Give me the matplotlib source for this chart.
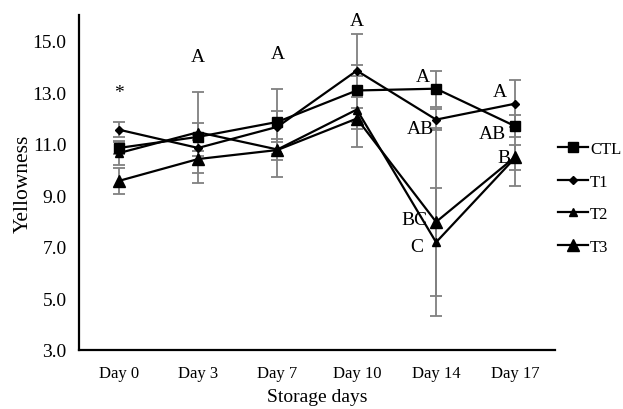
import numpy as np
import matplotlib
matplotlib.use('Agg')
import matplotlib.pyplot as plt

plt.rcParams['font.family'] = ['Liberation Serif', 'DejaVu Serif']

days = ['Day 0', 'Day 3', 'Day 7', 'Day 10', 'Day 14', 'Day 17']

ctl = [10.84, 11.27, 11.85, 13.07, 13.14, 11.68]
t1 = [11.55, 10.84, 11.66, 13.84, 11.94, 12.56]
t2 = [10.64, 11.45, 10.78, 12.33, 7.18, 10.47]
t3 = [9.56, 10.41, 10.76, 11.98, 7.97, 10.50]

ctl_err = [0.22, 0.55, 1.26, 2.19, 0.70, 0.42]
t1_err = [0.30, 0.30, 0.60, 0.20, 0.42, 0.90]
t2_err = [0.47, 1.58, 0.40, 0.50, 2.10, 0.50]
t3_err = [0.50, 0.94, 1.03, 0.40, 3.64, 1.15]

# letters above / beside points: (day index, y, text)
letters = [(0, 13.0, '*'), (1, 14.4, 'A'), (2, 14.5, 'A'), (3, 15.8, 'A'),
           (4, 13.6, 'A'), (4, 11.6, 'AB'), (4, 8.05, 'BC'), (4, 7.0, 'C'),
           (5, 13.05, 'A'), (5, 11.4, 'AB'), (5, 10.45, 'B')]
letter_dx = [0, 0, 0, 0, -0.17, -0.2, -0.27, -0.24, -0.2, -0.29, -0.15]

x = np.arange(len(days))

fig = plt.figure(figsize=(6.23, 4.10), dpi=100)
ax = fig.add_axes([0.127, 0.144, 0.764, 0.817])

series = [
    ('CTL', ctl, ctl_err, 's', 7),
    ('T1', t1, t1_err, 'D', 4),
    ('T2', t2, t2_err, '^', 5.5),
    ('T3', t3, t3_err, '^', 8),
]
for name, vals, err, mk, ms in series:
    ax.errorbar(x, vals, yerr=err, color='black', ecolor='#808080',
                elinewidth=1.3, capsize=4, capthick=1.3, lw=1.6,
                marker=mk, ms=ms, label=name)

for (i, y, t), dx in zip(letters, letter_dx):
    ax.text(x[i] + dx, y, t, ha='center', va='center', fontsize=14)

ax.set_xlim(-0.5, 5.5)
ax.set_ylim(3, 16)
ax.set_yticks(np.arange(3, 16, 2))
ax.set_yticklabels(['%.1f' % v for v in np.arange(3, 16, 2)])
ax.set_xticks(x)
ax.set_xticklabels(days)
ax.tick_params(axis='x', length=0, labelsize=12, pad=11)
ax.tick_params(axis='y', length=0, labelsize=14, pad=9)
for s in ['top', 'right']:
    ax.spines[s].set_visible(False)
for s in ['left', 'bottom']:
    ax.spines[s].set_linewidth(1.6)

ax.set_xlabel('Storage days', fontsize=14, labelpad=5)
ax.set_ylabel('Yellowness', fontsize=15.5, labelpad=0)

handles, labels = ax.get_legend_handles_labels()
handles = [h[0] for h in handles]
fig.legend(handles, labels, loc='center left', bbox_to_anchor=(0.872, 0.515),
           frameon=False, fontsize=12, handlelength=1.8, labelspacing=1.0,
           handletextpad=0.1)

fig.savefig('out.png', dpi=100)
